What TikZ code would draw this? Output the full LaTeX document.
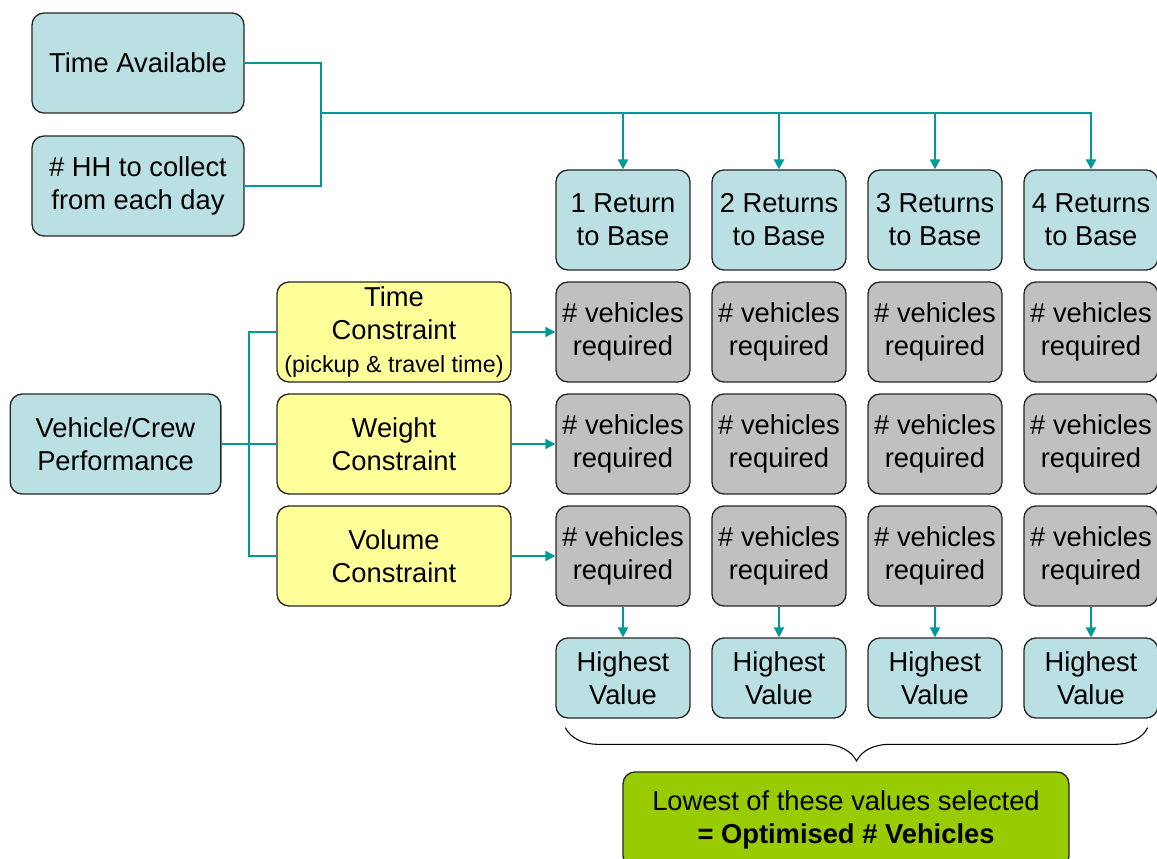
\documentclass[tikz,border=0pt]{standalone}
\usepackage{fontspec}
\setmainfont{Liberation Sans}
\usetikzlibrary{arrows.meta,decorations.pathreplacing,calc}

\definecolor{boxblue}{RGB}{187,224,227}
\definecolor{boxgrey}{RGB}{192,192,192}
\definecolor{boxyellow}{RGB}{255,255,153}
\definecolor{boxgreen}{RGB}{153,204,0}
\definecolor{linkteal}{RGB}{0,153,153}

\tikzset{
  box/.style={draw=black!85, line width=1pt, rounded corners=9pt, align=center,
    inner sep=0pt, font=\fontsize{20.5}{24.75}\selectfont},
  bluebox/.style={box, fill=boxblue},
  greybox/.style={box, fill=boxgrey, minimum width=100.5pt, minimum height=75pt},
  yellowbox/.style={box, fill=boxyellow, minimum width=175.5pt, minimum height=75pt},
  link/.style={draw=linkteal, line width=1.6pt},
  linkarrow/.style={link, -{Triangle[length=7.5pt,width=7.5pt]}}
}

\begin{document}
\begin{tikzpicture}[x=0.75pt,y=-0.75pt]
		\useasboundingbox (0,0) rectangle (1157,859);
		\node[bluebox, minimum width=159pt, minimum height=75pt] (ta) at (138,63) {Time Available};
		\node[bluebox, minimum width=159pt, minimum height=75pt] (hh) at (138,186) {\# HH to collect\\from each day};
		\node[bluebox, minimum width=158pt, minimum height=75pt] (vc) at (115.5,444) {Vehicle/Crew\\Performance};
		\node[yellowbox] (tc) at (394,332) {Time\\Constraint\\{\fontsize{17.5}{20}\selectfont (pickup \& travel time)}};
		\node[yellowbox] (wc) at (394,444) {Weight\\Constraint};
		\node[yellowbox] (vo) at (394,556) {Volume\\Constraint};
		\node[bluebox, minimum width=100.5pt, minimum height=75pt] (r1) at (623,220) {1 Return\\to Base};
		\node[bluebox, minimum width=100.5pt, minimum height=75pt] (r2) at (779,220) {2 Returns\\to Base};
		\node[bluebox, minimum width=100.5pt, minimum height=75pt] (r3) at (935,220) {3 Returns\\to Base};
		\node[bluebox, minimum width=100.5pt, minimum height=75pt] (r4) at (1091,220) {4 Returns\\to Base};
		\foreach \c/\x in {1/623,2/779,3/935,4/1091}{
			\node[greybox] (g1\c) at (\x,332) {\# vehicles\\required};
			\node[greybox] (g2\c) at (\x,444) {\# vehicles\\required};
			\node[greybox] (g3\c) at (\x,556) {\# vehicles\\required};
			\node[bluebox, minimum width=100.5pt, minimum height=60pt] (hv\c) at (\x,678) {Highest\\Value};
		}
		\node[box, fill=boxgreen, minimum width=334.5pt, minimum height=72pt] (os) at (846,820) {Lowest of these values selected\\\textbf{= Optimised \# Vehicles}};
		\coordinate (tj) at (321,113);
		\coordinate (vj) at (249,444);
		\draw[link] (ta.east) -| (tj) |- (hh.east);
		\foreach \c in {1,2,3,4}{
			\draw[linkarrow] (tj) -| (r\c.north);
			\draw[linkarrow] (g3\c.south) -- (hv\c.north);
		}
		\draw[link] (vc.east) -- (vj) |- (tc.west);
		\draw[link] (vj) -- (wc.west);
		\draw[link] (vj) |- (vo.west);
		\draw[linkarrow] (tc.east) -- (g11.west);
		\draw[linkarrow] (wc.east) -- (g21.west);
		\draw[linkarrow] (vo.east) -- (g31.west);
		\draw[line width=0.8pt, decorate, decoration={brace, mirror, amplitude=25pt}]
			($(hv1.south west)+(10,9)$) -- ($(hv4.south east)+(-11,9)$);
		\end{tikzpicture}
\end{document}
